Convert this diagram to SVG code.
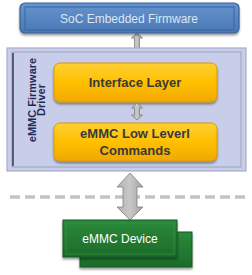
<svg xmlns="http://www.w3.org/2000/svg" width="252" height="275" viewBox="0 0 252 275">
<defs>
<linearGradient id="gBlue" x1="0" y1="0" x2="0" y2="1"><stop offset="0" stop-color="#6594cf"/><stop offset="1" stop-color="#4a78b5"/></linearGradient>
<linearGradient id="gOrange" x1="0" y1="0" x2="0" y2="1"><stop offset="0" stop-color="#ffd035"/><stop offset="0.5" stop-color="#ffc000"/><stop offset="1" stop-color="#f0a800"/></linearGradient>
<linearGradient id="gGreen" x1="0" y1="0" x2="0" y2="1"><stop offset="0" stop-color="#2b8a3a"/><stop offset="1" stop-color="#1c6b2a"/></linearGradient>
<linearGradient id="gGray" x1="0" y1="0" x2="1" y2="0"><stop offset="0" stop-color="#b4b4b4"/><stop offset="0.5" stop-color="#c8c8c8"/><stop offset="1" stop-color="#a0a0a0"/></linearGradient>
<filter id="sh" x="-10%" y="-10%" width="130%" height="140%"><feGaussianBlur in="SourceAlpha" stdDeviation="1"/><feOffset dx="0" dy="1.5"/><feComponentTransfer><feFuncA type="linear" slope="0.4"/></feComponentTransfer><feMerge><feMergeNode/><feMergeNode in="SourceGraphic"/></feMerge></filter>
</defs>
<style>
.arrow{fill:url(#gGray);stroke:#7f7f7f;stroke-width:0.8}
.lbl{font-family:"Liberation Sans",Arial,sans-serif;text-anchor:middle}
.orange{fill:url(#gOrange);stroke:#d89a00;stroke-width:1}
.green{fill:url(#gGreen);stroke:#155a22;stroke-width:1}
</style>
<g id="connectors">
<path class="arrow" d="M137,33 L142.5,38 L139.5,38 L139.5,56 L142.5,56 L137,61 L131.5,56 L134.5,56 L134.5,38 L131.5,38 Z"/>
<line x1="10" y1="197" x2="250" y2="197" stroke="#c3c3c3" stroke-width="3.5" stroke-dasharray="10,5"/>
</g>
<g id="soc-firmware">
<rect x="20" y="3" width="219" height="30" rx="5" fill="url(#gBlue)" stroke="#3a6296" stroke-width="1.2" filter="url(#sh)"/>
<rect x="25" y="7" width="209" height="23" fill="none" stroke="#3c649c" stroke-width="1"/>
<text class="lbl" x="129" y="22.5" font-size="12" fill="#dbe6f4">SoC Embedded Firmware</text>
</g>
<g id="driver-frame">
<rect x="7" y="48" width="239" height="123" fill="#c8cdea" stroke="#a7adc6" stroke-width="1.2"/>
<rect x="12" y="52" width="229" height="115" fill="none" stroke="#9ea3b8" stroke-width="1"/>
<line x1="13" y1="53" x2="13" y2="166" stroke="#333a4f" stroke-width="1.5"/>
<text class="lbl" transform="translate(36,100) rotate(-90)" font-size="11" font-weight="bold" fill="#1f2a55">eMMC Firmware</text>
<text class="lbl" transform="translate(45,100) rotate(-90)" font-size="11" font-weight="bold" fill="#1f2a55">Driver</text>
</g>
<g id="interface-layer">
<rect class="orange" x="54" y="63" width="163" height="39" rx="6" filter="url(#sh)"/>
<text class="lbl" x="135" y="87" font-size="13" font-weight="bold" fill="#3a3a3a">Interface Layer</text>
</g>
<g id="mid-arrow">
<path class="arrow" d="M137,103 L142.5,108 L139.5,108 L139.5,115 L142.5,115 L137,120 L131.5,115 L134.5,115 L134.5,108 L131.5,108 Z"/>
</g>
<g id="low-level-commands">
<rect class="orange" x="54" y="123" width="163" height="38" rx="6" filter="url(#sh)"/>
<text class="lbl" x="135" y="138" font-size="13" font-weight="bold" fill="#3a3a3a">eMMC Low Leverl</text>
<text class="lbl" x="135" y="155" font-size="13" font-weight="bold" fill="#3a3a3a">Commands</text>
</g>
<g id="big-arrow">
<path class="arrow" d="M130,173 L143,187 L137,187 L137,207 L143,207 L130,220 L117,207 L123,207 L123,187 L117,187 Z"/>
</g>
<g id="emmc-device">
<rect class="green" x="80" y="232" width="112" height="35" filter="url(#sh)"/>
<rect class="green" x="63" y="220" width="114" height="37" filter="url(#sh)"/>
<rect x="66" y="223" width="108" height="31" fill="none" stroke="#3d9a4c" stroke-width="0.8" opacity="0.7"/>
<text class="lbl" x="120" y="242.5" font-size="12" fill="#ffffff">eMMC Device</text>
</g>
</svg>
